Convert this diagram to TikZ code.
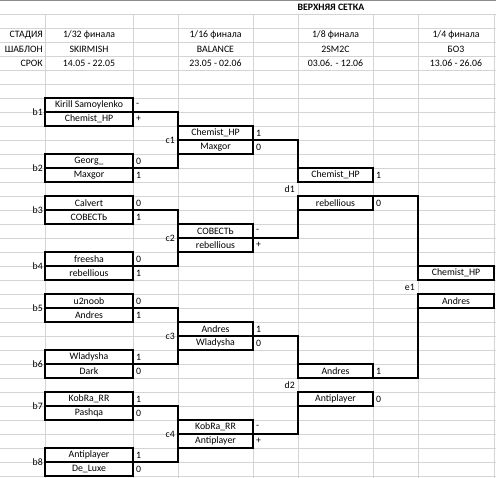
\documentclass[tikz,border=0pt]{standalone}
\usepackage{fontspec}
\setmainfont{Carlito}
\begin{document}
\begin{tikzpicture}[x=1pt,y=-1pt,
    font=\fontsize{9.8}{11}\selectfont,
    grid/.style={draw=black!17,line width=0.8pt},
    cell/.style={draw,line width=1.2pt,inner sep=0pt,outer sep=0pt,minimum height=14pt},
    cellB/.style={cell,minimum width=88pt},
    cellD/.style={cell,minimum width=75pt},
    cellH/.style={cell,minimum width=76pt},
    tag/.style={anchor=east,inner sep=0pt},
    score/.style={anchor=west,inner sep=0pt},
    link/.style={line width=1.2pt}]
\useasboundingbox (0,0) rectangle (496,478);
% rejilla de la hoja
\draw[black!45,line width=1pt] (0,0.5) -- (496,0.5);
\foreach \r in {1,...,34}
    \draw[grid] (0,{14*\r}) -- (496,{14*\r});
\foreach \c in {45,133,178,253,298,373,418,494}
    \draw[grid] (\c,14) -- (\c,478);
% cabecera
\node [font=\fontsize{9.8}{11}\selectfont\bfseries] (titulo) at (331,7.5) {ВЕРХНЯЯ СЕТКА};
\node [tag] (hst) at (43,35) {СТАДИЯ};
\node [tag] (hsh) at (43,49) {ШАБЛОН};
\node [tag] (hsr) at (43,63) {СРОК};
\node (r1a) at (89,35) {1/32 финала};
\node (r1b) at (89,49) {SKIRMISH};
\node (r1c) at (89,63) {14.05 - 22.05};
\node (r2a) at (215.5,35) {1/16 финала};
\node (r2b) at (215.5,49) {BALANCE};
\node (r2c) at (215.5,63) {23.05 - 02.06};
\node (r3a) at (335.5,35) {1/8 финала};
\node (r3b) at (335.5,49) {2SM2C};
\node (r3c) at (335.5,63) {03.06. - 12.06};
\node (r4a) at (456,35) {1/4 финала};
\node (r4b) at (456,49) {БО3};
\node (r4c) at (456,63) {13.06 - 26.06};
% 1/32
\node [cellB] (b1a) at (89,105) {Kirill Samoylenko};
\node [cellB] (b1b) at (89,119) {Chemist\_HP};
\node [cellB] (b2a) at (89,161) {Georg\_};
\node [cellB] (b2b) at (89,175) {Maxgor};
\node [cellB] (b3a) at (89,203) {Calvert};
\node [cellB] (b3b) at (89,217) {СОВЕСТЬ};
\node [cellB] (b4a) at (89,259) {freesha};
\node [cellB] (b4b) at (89,273) {rebellious};
\node [cellB] (b5a) at (89,301) {u2noob};
\node [cellB] (b5b) at (89,315) {Andres};
\node [cellB] (b6a) at (89,357) {Wladysha};
\node [cellB] (b6b) at (89,371) {Dark};
\node [cellB] (b7a) at (89,399) {KobRa\_RR};
\node [cellB] (b7b) at (89,413) {Pashqa};
\node [cellB] (b8a) at (89,455) {Antiplayer};
\node [cellB] (b8b) at (89,469) {De\_Luxe};
\node [tag] (b1) at (43,112) {b1};
\node [tag] (b2) at (43,168) {b2};
\node [tag] (b3) at (43,210) {b3};
\node [tag] (b4) at (43,266) {b4};
\node [tag] (b5) at (43,308) {b5};
\node [tag] (b6) at (43,364) {b6};
\node [tag] (b7) at (43,406) {b7};
\node [tag] (b8) at (43,462) {b8};
\node [score] (s1a) at (136,105) {-};
\node [score] (s1b) at (136,119) {+};
\node [score] (s2a) at (136,161) {0};
\node [score] (s2b) at (136,175) {1};
\node [score] (s3a) at (136,203) {0};
\node [score] (s3b) at (136,217) {1};
\node [score] (s4a) at (136,259) {0};
\node [score] (s4b) at (136,273) {1};
\node [score] (s5a) at (136,301) {0};
\node [score] (s5b) at (136,315) {1};
\node [score] (s6a) at (136,357) {1};
\node [score] (s6b) at (136,371) {0};
\node [score] (s7a) at (136,399) {1};
\node [score] (s7b) at (136,413) {0};
\node [score] (s8a) at (136,455) {1};
\node [score] (s8b) at (136,469) {0};
% 1/16
\node [cellD] (c1a) at (215.5,133) {Chemist\_HP};
\node [cellD] (c1b) at (215.5,147) {Maxgor};
\node [cellD] (c2a) at (215.5,231) {СОВЕСТЬ};
\node [cellD] (c2b) at (215.5,245) {rebellious};
\node [cellD] (c3a) at (215.5,329) {Andres};
\node [cellD] (c3b) at (215.5,343) {Wladysha};
\node [cellD] (c4a) at (215.5,427) {KobRa\_RR};
\node [cellD] (c4b) at (215.5,441) {Antiplayer};
\node [tag] (c1) at (175,140) {c1};
\node [tag] (c2) at (175,238) {c2};
\node [tag] (c3) at (175,336) {c3};
\node [tag] (c4) at (175,434) {c4};
\node [score] (t1a) at (256,133) {1};
\node [score] (t1b) at (256,147) {0};
\node [score] (t2a) at (256,231) {-};
\node [score] (t2b) at (256,245) {+};
\node [score] (t3a) at (256,329) {1};
\node [score] (t3b) at (256,343) {0};
\node [score] (t4a) at (256,427) {-};
\node [score] (t4b) at (256,441) {+};
% 1/8
\node [cellD] (d1a) at (335.5,175) {Chemist\_HP};
\node [cellD] (d1b) at (335.5,203) {rebellious};
\node [cellD] (d2a) at (335.5,371) {Andres};
\node [cellD] (d2b) at (335.5,399) {Antiplayer};
\node [tag] (d1) at (295,189) {d1};
\node [tag] (d2) at (295,385) {d2};
\node [score] (u1a) at (376,175) {1};
\node [score] (u1b) at (376,203) {0};
\node [score] (u2a) at (376,371) {1};
\node [score] (u2b) at (376,399) {0};
% 1/4
\node [cellH] (e1a) at (456,273) {Chemist\_HP};
\node [cellH] (e1b) at (456,301) {Andres};
\node [tag] (e1) at (415,287) {e1};
% lineas del cuadro
\draw[link] (b1b.north east) -| (c1a.north west);
\draw[link] (b2b.north east) -| (c1b.south west);
\draw[link] (b3b.north east) -| (c2a.north west);
\draw[link] (b4b.north east) -| (c2b.south west);
\draw[link] (b5b.north east) -| (c3a.north west);
\draw[link] (b6b.north east) -| (c3b.south west);
\draw[link] (b7b.north east) -| (c4a.north west);
\draw[link] (b8b.north east) -| (c4b.south west);
\draw[link] (c1a.south east) -| (d1a.north west);
\draw[link] (c2a.south east) -| (d1b.south west);
\draw[link] (c3a.south east) -| (d2a.north west);
\draw[link] (c4a.south east) -| (d2b.south west);
\draw[link] (d1b.north east) -| (e1a.north west);
\draw[link] (d2a.south east) -| (e1b.south west);
\end{tikzpicture}
\end{document}
